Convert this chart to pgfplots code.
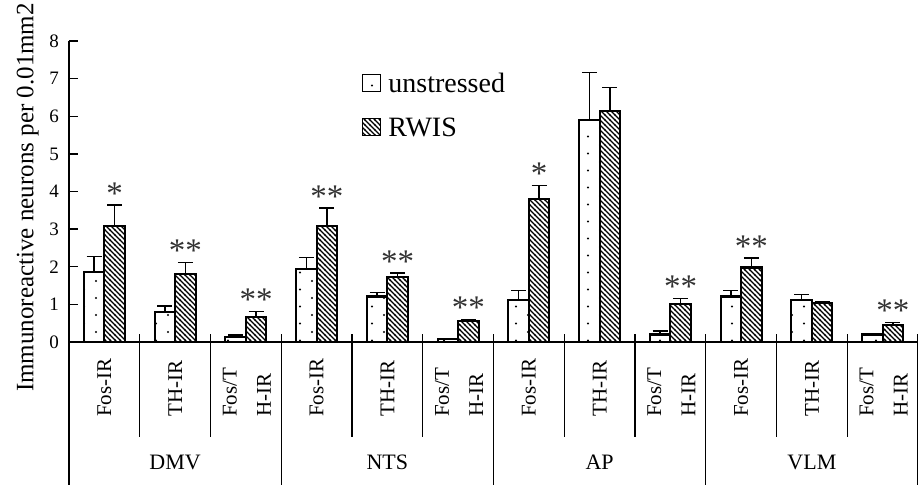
\documentclass[border=0pt]{standalone}
\usepackage{fontspec}
\setmainfont{Liberation Serif}
\usepackage{pgfplots}
\pgfplotsset{compat=1.18}
\usetikzlibrary{patterns}

\pgfdeclarepatternformonly{sparsedots}{\pgfqpoint{-2bp}{-2bp}}{\pgfqpoint{26bp}{19bp}}{\pgfqpoint{24bp}{17bp}}{%
 \pgfpathcircle{\pgfqpoint{0bp}{0bp}}{1.15bp}%
 \pgfpathcircle{\pgfqpoint{12bp}{8.5bp}}{1.15bp}%
 \pgfusepath{fill}}
\pgfdeclarepatternformonly{hatchnw}{\pgfqpoint{-1bp}{-1bp}}{\pgfqpoint{6bp}{6bp}}{\pgfqpoint{5bp}{5bp}}{%
 \pgfsetlinewidth{1.15bp}%
 \pgfpathmoveto{\pgfqpoint{-0.5bp}{5.5bp}}\pgfpathlineto{\pgfqpoint{5.5bp}{-0.5bp}}%
 \pgfusepath{stroke}}

\pgfplotsset{
  errstyle/.style={error bars/.cd, y dir=plus, y explicit, error mark=-,
    error mark options={rotate=90, mark size=7.5bp, line width=1.3bp, draw=black},
    error bar style={line width=1.3bp, black}},
}

\begin{document}
\begin{tikzpicture}
\begin{axis}[
  scale only axis, width=849bp, height=301bp,
  xmin=0, xmax=12, ymin=0, ymax=8,
  axis x line=bottom, axis y line=left,
  axis line style={-, line width=1.3bp, black},
  xtick=\empty, ytick={0,1,...,8},
  tick align=inside, major tick length=9bp,
  tick style={line width=1.3bp, black},
  /pgf/number format/assume math mode=true,
  yticklabel style={font=\fontsize{19bp}{22bp}\selectfont, inner sep=0pt, xshift=-10bp},
  ylabel={Immunoreactive neurons per 0.01mm2},
  ylabel style={font=\fontsize{25bp}{30bp}\selectfont, inner sep=0pt,
    at={([xshift=-30bp,yshift=-6bp]axis description cs:0,0.5)}, anchor=south},
  clip=false,
  legend style={at={(axis description cs:0.345,0.905)}, anchor=north west, draw=none, fill=none,
    font=\fontsize{28bp}{30bp}\selectfont, row sep=18bp, inner sep=0pt,
    nodes={inner sep=3bp}, column sep=4bp},
  legend cell align=left,
  legend image code/.code={\draw[#1,line width=1.3bp] (0bp,-8bp) rectangle (18bp,9bp);},
]
% unstressed: bars at group centre - 0.145
\addplot[ybar, bar width=20.5bp, draw=black, line width=2.2bp, pattern=sparsedots, errstyle]
coordinates {
(0.355,1.87) +- (0,0.40)
(1.355,0.79) +- (0,0.17)
(2.355,0.14) +- (0,0.05)
(3.355,1.93) +- (0,0.31)
(4.355,1.21) +- (0,0.11)
(5.355,0.08) +- (0,0.0)
(6.355,1.11) +- (0,0.25)
(7.355,5.90) +- (0,1.27)
(8.355,0.20) +- (0,0.09)
(9.355,1.21) +- (0,0.15)
(10.355,1.11) +- (0,0.15)
(11.355,0.20) +- (0,0.0)
};
\addlegendentry{unstressed}
% RWIS: bars at group centre + 0.145
\addplot[ybar, bar width=20.5bp, draw=black, line width=2.2bp, pattern=hatchnw, errstyle]
coordinates {
(0.645,3.09) +- (0,0.55)
(1.645,1.81) +- (0,0.31)
(2.645,0.66) +- (0,0.15)
(3.645,3.09) +- (0,0.47)
(4.645,1.72) +- (0,0.11)
(5.645,0.56) +- (0,0.04)
(6.645,3.80) +- (0,0.36)
(7.645,6.15) +- (0,0.61)
(8.645,1.01) +- (0,0.15)
(9.645,1.98) +- (0,0.25)
(10.645,1.03) +- (0,0.04)
(11.645,0.46) +- (0,0.05)
};
\addlegendentry{RWIS}
\addplot[draw=none, mark=none, forget plot, point meta=explicit symbolic,
  nodes near coords={\pgfplotspointmeta},
  nodes near coords style={anchor=base, inner sep=0pt, yshift=1bp,
    font=\fontsize{33bp}{33bp}\selectfont, text=black!80}]
coordinates {
(0.645,3.64) [*]
(1.645,2.12) [**]
(2.645,0.81) [**]
(3.645,3.56) [**]
(4.645,1.83) [**]
(5.645,0.60) [**]
(6.645,4.16) [*]
(8.645,1.16) [**]
(9.645,2.23) [**]
(11.645,0.51) [**]
};
% separators
\pgfplotsinvokeforeach{1,2,4,5,7,8,10,11}{
  \draw[line width=1.3bp] ([yshift=8bp]axis cs:#1,0) -- ([yshift=-95bp]axis cs:#1,0);
}
\pgfplotsinvokeforeach{0,3,6,9,12}{
  \draw[line width=1.3bp] ([yshift=8bp]axis cs:#1,0) -- ([yshift=-143bp]axis cs:#1,0);
}
% marker labels
\pgfplotsinvokeforeach{0.5,3.5,6.5,9.5}{
  \node[rotate=90, anchor=west, inner sep=0pt, font=\fontsize{21bp}{24bp}\selectfont] at ([yshift=-75bp]axis cs:#1,0) {Fos-IR};
}
\pgfplotsinvokeforeach{1.5,4.5,7.5,10.5}{
  \node[rotate=90, anchor=west, inner sep=0pt, font=\fontsize{21bp}{24bp}\selectfont] at ([yshift=-75bp]axis cs:#1,0) {TH-IR};
}
\pgfplotsinvokeforeach{2.5,5.5,8.5,11.5}{
  \node[rotate=90, anchor=west, inner sep=0pt, font=\fontsize{21bp}{24bp}\selectfont] at ([xshift=-16bp,yshift=-75bp]axis cs:#1,0) {Fos/T};
  \node[rotate=90, anchor=west, inner sep=0pt, font=\fontsize{21bp}{24bp}\selectfont] at ([xshift=18bp,yshift=-75bp]axis cs:#1,0) {H-IR};
}
% region labels
\node[anchor=base, font=\fontsize{22bp}{24bp}\selectfont] at ([yshift=-127bp]axis cs:1.5,0) {DMV};
\node[anchor=base, font=\fontsize{22bp}{24bp}\selectfont] at ([yshift=-127bp]axis cs:4.5,0) {NTS};
\node[anchor=base, font=\fontsize{22bp}{24bp}\selectfont] at ([yshift=-127bp]axis cs:7.5,0) {AP};
\node[anchor=base, font=\fontsize{22bp}{24bp}\selectfont] at ([yshift=-127bp]axis cs:10.5,0) {VLM};
\end{axis}
\pgfresetboundingbox
\path[use as bounding box] (-69bp,-143bp) rectangle (849bp,342bp);
\end{tikzpicture}
\end{document}
